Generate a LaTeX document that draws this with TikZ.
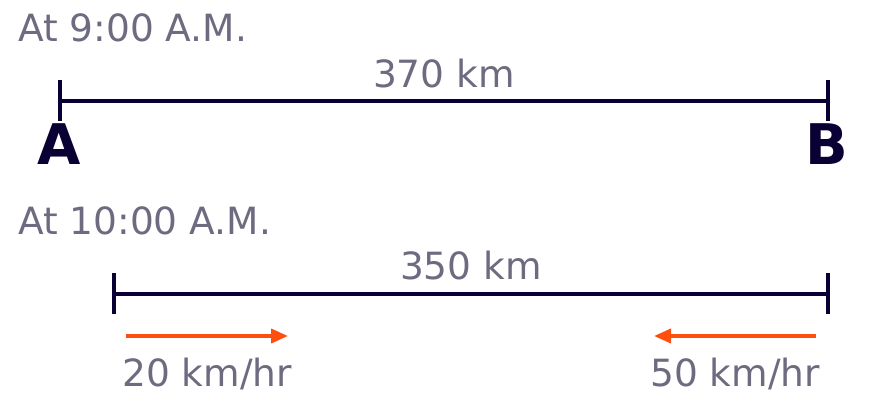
\documentclass[tikz,border=0pt]{standalone}
\usepackage{fontspec}
\setmainfont{DejaVu Sans}
\usetikzlibrary{arrows.meta}
\definecolor{navy}{HTML}{0A0033}
\definecolor{greytxt}{HTML}{6E6A80}
\definecolor{orng}{HTML}{FF4F0F}
\tikzset{
  lbl/.style={inner sep=0pt, text=greytxt, font=\fontsize{37.5}{40}\selectfont},
  pt/.style={inner sep=0pt, text=navy, font=\bfseries\fontsize{56}{60}\selectfont, anchor=base},
  seg/.style={draw=navy, line width=4pt},
  tick/.style={draw=navy, line width=4pt},
  spd/.style={draw=orng, line width=3.7pt, -{Triangle[length=17pt,width=14pt]}}
}
\begin{document}
\begin{tikzpicture}[x=1pt,y=-1pt]
\useasboundingbox (0,0) rectangle (888,411);
% 9:00
\node[lbl, anchor=base west] (t1) at (18,42) {At 9:00 A.M.};
\coordinate (a1) at (60,101);
\coordinate (b1) at (828,101);
\draw[seg] (a1) -- (b1);
\draw[tick] ([yshift=-20pt]a1) -- ([yshift=21pt]a1);
\draw[tick] ([yshift=-20pt]b1) -- ([yshift=21pt]b1);
\node[lbl, anchor=base] (d1) at (444,88) {370 km};
\node[pt] (A) at (59,165) {A};
\node[pt] (B) at (827,165) {B};
% 10:00
\node[lbl, anchor=base west] (t2) at (18,235) {At 10:00 A.M.};
\coordinate (a2) at (114,294);
\coordinate (b2) at (828,294);
\draw[seg] (a2) -- (b2);
\draw[tick] ([yshift=-20pt]a2) -- ([yshift=21pt]a2);
\draw[tick] ([yshift=-20pt]b2) -- ([yshift=21pt]b2);
\node[lbl, anchor=base] (d2) at (471,280) {350 km};
% speeds
\coordinate (s1) at (126,336);
\coordinate (e1) at (288,336);
\draw[spd] (s1) -- (e1);
\coordinate (s2) at (816,336);
\coordinate (e2) at (654,336);
\draw[spd] (s2) -- (e2);
\node[lbl, anchor=base west] (v1) at (122,386) {20 km/hr};
\node[lbl, anchor=base west] (v2) at (650,386) {50 km/hr};
\end{tikzpicture}
\end{document}
